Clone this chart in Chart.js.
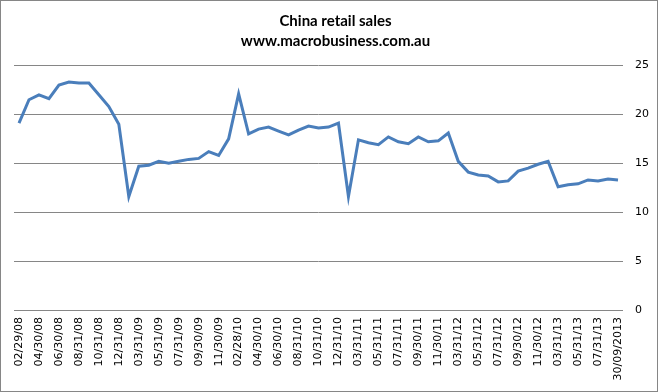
<!DOCTYPE html>
<html>
<head>
<meta charset="utf-8">
<script src="https://cdn.jsdelivr.net/npm/chart.js@4"></script>
<style>
  body { margin: 0; background: #fff; }
  #wrap { width: 658px; height: 392px; box-sizing: border-box; border: 1px solid #868686; background: #fff; }
</style>
</head>
<body>
<div id="wrap"><canvas id="chart-china-retail" width="656" height="390"></canvas></div>
<script>
const dates = [
  '02/29/08', '03/31/08', '04/30/08', '05/31/08', '06/30/08', '07/31/08', '08/31/08', '09/30/08', '10/31/08', '11/30/08', '12/31/08',
  '02/28/09', '03/31/09', '04/30/09', '05/31/09', '06/30/09', '07/31/09', '08/31/09', '09/30/09', '10/31/09', '11/30/09', '12/31/09',
  '02/28/10', '03/31/10', '04/30/10', '05/31/10', '06/30/10', '07/31/10', '08/31/10', '09/30/10', '10/31/10', '11/30/10', '12/31/10',
  '02/28/11', '03/31/11', '04/30/11', '05/31/11', '06/30/11', '07/31/11', '08/31/11', '09/30/11', '10/31/11', '11/30/11', '12/31/11',
  '03/31/12', '04/30/12', '05/31/12', '06/30/12', '07/31/12', '08/31/12', '09/30/12', '10/31/12', '11/30/12', '12/31/12',
  '03/31/13', '04/30/13', '05/31/13', '06/30/13', '07/31/13', '08/31/13', '30/09/2013'
];

const retailSales = [
  19.1, 21.5, 22.0, 21.6, 23.0, 23.3, 23.2, 23.2, 22.0, 20.8, 19.0,
  11.6, 14.7, 14.8, 15.2, 15.0, 15.2, 15.4, 15.5, 16.2, 15.8, 17.5,
  22.1, 18.0, 18.5, 18.7, 18.3, 17.9, 18.4, 18.8, 18.6, 18.7, 19.1,
  11.6, 17.4, 17.1, 16.9, 17.7, 17.2, 17.0, 17.7, 17.2, 17.3, 18.1,
  15.2, 14.1, 13.8, 13.7, 13.1, 13.2, 14.2, 14.5, 14.9, 15.2,
  12.6, 12.8, 12.9, 13.3, 13.2, 13.4, 13.3
];

const yTicks = [0, 5, 10, 15, 20, 25];

const chartElement = document.getElementById('chart-china-retail');

new Chart(chartElement, {
  type: 'line',
  data: {
    labels: dates,
    datasets: [{
      label: 'China retail sales',
      data: retailSales,
      borderColor: '#4A7EBB',
      borderWidth: 3,
      pointRadius: 0,
      tension: 0,
      fill: false
    }]
  },
  options: {
    responsive: false,
    animation: false,
    layout: { padding: { left: 13, right: 0, top: 0, bottom: 0 } },
    plugins: {
      legend: { display: false },
      tooltip: { enabled: false },
      title: {
        display: true,
        text: ['China retail sales', 'www.macrobusiness.com.au'],
        color: '#000',
        font: { family: 'Lato', size: 15, weight: 'bold', lineHeight: 1.35 },
        padding: { top: 10, bottom: 14 }
      }
    },
    scales: {
      x: {
        offset: true,
        grid: { display: false, drawTicks: false },
        border: { display: false },
        ticks: {
          autoSkip: false,
          maxRotation: 90,
          minRotation: 90,
          padding: 7,
          color: '#000',
          font: { family: 'DejaVu Sans', size: 11 },
          callback: function (value, index) {
            return index % 2 === 0 ? dates[index] : '';
          }
        },
        afterFit: function (scale) { scale.height = 81; }
      },
      y: {
        position: 'right',
        min: yTicks[0],
        max: yTicks[yTicks.length - 1],
        grid: { color: '#868686', lineWidth: 1, drawTicks: false },
        border: { display: false },
        ticks: {
          stepSize: 5,
          padding: 12,
          color: '#000',
          font: { family: 'DejaVu Sans', size: 11 }
        },
        afterFit: function (scale) { scale.width = 34; }
      }
    }
  }
});
</script>
</body>
</html>
